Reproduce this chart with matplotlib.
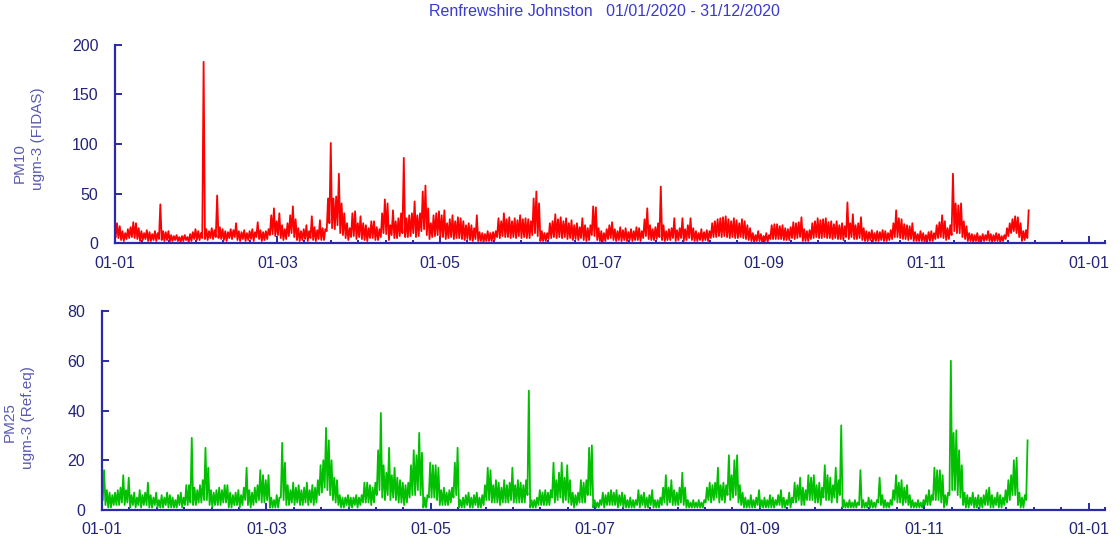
import numpy as np
import matplotlib
matplotlib.use("Agg")
import matplotlib.pyplot as plt

plt.rcParams['font.family'] = ['Liberation Sans', 'DejaVu Sans']

# 站点与时段
title = "Renfrewshire Johnston   01/01/2020 - 31/12/2020"
start = np.datetime64('2020-01-01T00')

# PM10 日内高/低值 (ugm-3), 1月1日 - 12月4日
pm10_hi = [
    20, 17, 12, 10, 14, 16, 21, 20, 15, 12, 10, 13, 11, 9, 12, 10, 39, 12, 11, 12, 8, 7, 8, 6, 7, 8, 6, 9, 11, 14, 12,
    10, 183, 14, 12, 15, 13, 48, 16, 14, 12, 11, 14, 13, 20, 12, 11, 13, 10, 12, 14, 11, 21, 13, 11, 12, 14, 28, 35, 22,
    30, 18, 14, 20, 28, 37, 24, 15, 12, 14, 18, 12, 27, 16, 13, 23, 15, 14, 45, 101, 45, 47, 70, 40, 30, 20, 15, 30, 32, 20, 27,
    20, 18, 15, 22, 22, 16, 14, 30, 44, 40, 18, 33, 22, 25, 30, 86, 25, 28, 30, 42, 28, 30, 52, 58, 35, 20, 28, 30, 32, 28,
    33, 20, 24, 28, 22, 26, 25, 22, 18, 20, 18, 15, 28, 11, 10, 9, 12, 10, 11, 12, 25, 22, 30, 24, 26, 22, 25, 23, 28, 24, 25,
    24, 22, 45, 52, 40, 12, 10, 10, 20, 22, 29, 24, 26, 22, 25, 20, 23, 18, 20, 16, 25, 18, 15, 18, 37, 36, 15, 12, 10, 14,
    18, 21, 14, 12, 16, 13, 15, 11, 14, 12, 16, 15, 12, 24, 35, 18, 14, 16, 20, 57, 18, 12, 14, 15, 25, 13, 15, 25, 14, 18, 25,
    15, 12, 10, 14, 11, 13, 12, 20, 22, 24, 25, 26, 27, 24, 22, 25, 23, 20, 24, 22, 18, 15, 10, 8, 12, 9, 7, 10, 8, 18, 19,
    19, 17, 18, 15, 14, 16, 21, 20, 21, 26, 14, 12, 13, 20, 22, 25, 23, 24, 25, 21, 22, 19, 22, 18, 20, 17, 41, 20, 29, 18,
    20, 26, 15, 12, 11, 13, 10, 12, 11, 13, 12, 10, 13, 20, 33, 25, 24, 19, 18, 17, 20, 11, 9, 12, 10, 8, 11, 12, 10, 18, 21,
    28, 22, 15, 18, 70, 40, 38, 40, 22, 17, 10, 9, 8, 10, 7, 9, 8, 12, 9, 8, 10, 9, 7, 8, 15, 20, 24, 27, 26, 20,
    12, 13, 33,
]
pm10_lo = [
    6, 5, 3, 2, 4, 5, 6, 5, 4, 2, 3, 4, 2, 2, 3, 2, 4, 3, 2, 3, 1, 2, 3, 2, 1, 2, 3, 1, 2, 4, 3,
    3, 5, 4, 3, 5, 4, 6, 5, 4, 3, 2, 5, 4, 6, 3, 2, 4, 2, 3, 4, 2, 6, 4, 2, 3, 4, 8, 9, 7,
    8, 5, 3, 4, 7, 10, 6, 3, 2, 3, 4, 2, 5, 3, 2, 4, 3, 3, 12, 20, 15, 14, 18, 10, 8, 5, 3, 6, 7, 4, 6,
    4, 3, 2, 5, 5, 3, 3, 6, 10, 9, 3, 8, 5, 5, 7, 10, 6, 6, 7, 10, 6, 7, 12, 14, 8, 4, 6, 7, 8, 6,
    6, 4, 5, 6, 4, 5, 5, 4, 3, 4, 3, 2, 4, 2, 2, 1, 2, 2, 2, 3, 6, 5, 7, 6, 6, 5, 6, 5, 7, 5, 6,
    5, 5, 8, 10, 7, 2, 2, 2, 4, 5, 6, 5, 6, 5, 6, 4, 5, 3, 4, 3, 5, 3, 2, 3, 8, 7, 3, 2, 1, 2,
    4, 5, 3, 2, 3, 2, 3, 2, 3, 2, 3, 3, 2, 5, 7, 4, 3, 3, 4, 6, 3, 2, 3, 3, 5, 2, 3, 5, 2, 3, 5,
    3, 2, 2, 3, 2, 3, 2, 5, 6, 6, 7, 6, 7, 6, 5, 6, 5, 5, 6, 5, 4, 3, 2, 1, 2, 2, 1, 2, 1, 4, 4,
    4, 4, 4, 3, 3, 3, 5, 4, 5, 6, 2, 2, 2, 4, 5, 6, 5, 5, 6, 5, 5, 4, 5, 4, 4, 3, 6, 4, 6, 4,
    4, 5, 3, 2, 2, 3, 2, 2, 2, 3, 2, 2, 3, 4, 6, 6, 5, 4, 4, 3, 4, 2, 2, 2, 2, 1, 2, 2, 2, 4, 5,
    6, 5, 3, 4, 8, 12, 10, 10, 6, 4, 2, 2, 1, 2, 1, 2, 2, 3, 2, 1, 2, 2, 1, 2, 4, 7, 10, 12, 10, 6,
    2, 3, 5,
]

# PM2.5 日内高/低值 (ugm-3)
pm25_hi = [
    16, 8, 7, 6, 7, 8, 9, 14, 8, 13, 6, 7, 5, 8, 6, 7, 11, 6, 5, 7, 4, 6, 5, 7, 6, 5, 4, 6, 7, 5, 10,
    10, 29, 9, 8, 10, 12, 25, 17, 8, 7, 8, 9, 8, 10, 10, 7, 6, 7, 8, 6, 9, 17, 8, 7, 9, 10, 16, 14, 12,
    14, 5, 4, 6, 5, 27, 19, 10, 8, 11, 9, 10, 8, 9, 11, 8, 10, 9, 12, 18, 20, 33, 28, 20, 13, 12, 6, 5, 5, 6, 5,
    5, 6, 5, 6, 11, 11, 10, 9, 11, 24, 39, 18, 15, 25, 14, 17, 13, 12, 11, 10, 11, 18, 24, 22, 31, 23, 5, 6, 19, 18,
    18, 17, 8, 9, 7, 8, 9, 19, 25, 4, 5, 6, 7, 5, 6, 7, 5, 6, 10, 17, 16, 10, 12, 11, 9, 12, 10, 11, 17, 10, 12,
    11, 10, 12, 48, 4, 4, 5, 8, 7, 8, 7, 8, 19, 12, 15, 19, 13, 18, 12, 7, 6, 7, 12, 11, 12, 25, 26, 4, 3, 4,
    7, 6, 7, 8, 7, 8, 6, 7, 6, 4, 5, 4, 4, 8, 6, 7, 5, 6, 8, 4, 4, 5, 9, 14, 9, 12, 8, 7, 9, 15, 9,
    4, 3, 4, 3, 4, 3, 4, 9, 11, 10, 11, 17, 10, 11, 10, 22, 14, 20, 22, 10, 7, 5, 4, 6, 4, 5, 8, 4, 5, 4, 6,
    5, 4, 6, 8, 5, 4, 7, 5, 11, 10, 13, 9, 8, 14, 13, 14, 10, 11, 9, 18, 14, 13, 10, 17, 12, 34, 4, 3, 4, 3,
    4, 3, 16, 4, 3, 5, 4, 3, 4, 13, 6, 4, 3, 4, 8, 14, 11, 12, 9, 10, 6, 4, 3, 4, 3, 4, 6, 8, 6, 17, 16,
    16, 14, 6, 7, 60, 31, 32, 24, 18, 7, 6, 5, 7, 5, 6, 5, 6, 8, 9, 6, 5, 7, 6, 5, 8, 12, 14, 20, 21, 7,
    5, 6, 28,
]
pm25_lo = [
    4, 2, 1, 1, 2, 2, 2, 3, 2, 3, 1, 2, 1, 2, 1, 2, 2, 1, 1, 2, 1, 1, 1, 2, 1, 1, 1, 1, 2, 1, 2,
    2, 3, 2, 2, 3, 3, 4, 4, 2, 1, 2, 2, 2, 3, 3, 1, 1, 2, 2, 1, 2, 4, 2, 1, 2, 3, 4, 3, 3,
    4, 1, 1, 1, 1, 5, 4, 2, 2, 3, 2, 3, 2, 2, 3, 2, 3, 2, 3, 6, 7, 9, 8, 6, 4, 3, 2, 1, 1, 2, 1,
    1, 2, 1, 2, 3, 3, 3, 2, 3, 6, 8, 5, 4, 6, 4, 5, 4, 3, 3, 2, 3, 5, 6, 6, 8, 6, 1, 1, 5, 5,
    5, 4, 2, 2, 2, 2, 3, 5, 6, 1, 1, 1, 2, 1, 1, 2, 1, 1, 2, 4, 4, 3, 3, 3, 2, 3, 3, 3, 4, 3, 3,
    3, 3, 3, 6, 1, 1, 1, 2, 2, 2, 2, 2, 5, 3, 4, 5, 3, 4, 3, 2, 1, 2, 3, 3, 3, 6, 6, 1, 1, 1,
    2, 1, 2, 2, 2, 2, 1, 2, 1, 1, 1, 1, 1, 2, 1, 2, 1, 1, 2, 1, 1, 1, 2, 3, 2, 3, 2, 2, 2, 3, 2,
    1, 1, 1, 1, 1, 1, 1, 3, 4, 3, 4, 5, 3, 4, 3, 6, 4, 5, 6, 3, 2, 1, 1, 1, 1, 1, 2, 1, 1, 1, 1,
    1, 1, 2, 2, 1, 1, 2, 1, 3, 3, 4, 2, 2, 4, 4, 4, 3, 3, 2, 5, 4, 4, 3, 5, 3, 6, 1, 1, 1, 1,
    1, 1, 2, 1, 1, 1, 1, 1, 1, 3, 2, 1, 1, 1, 2, 4, 3, 3, 2, 3, 2, 1, 1, 1, 1, 1, 2, 2, 2, 4, 4,
    4, 3, 1, 2, 6, 8, 8, 6, 5, 2, 1, 1, 2, 1, 1, 1, 1, 2, 2, 1, 1, 2, 1, 1, 2, 3, 4, 6, 6, 2,
    1, 1, 4,
]

tick_days = [0, 60, 120, 180, 240, 300, 360]
tick_labels = ["01-01", "01-03", "01-05", "01-07", "01-09", "01-11", "01-01"]

axis_col = '#2a2aa6'
text_col = '#23237a'
label_col = '#5a5ab4'


def series(lo, hi):
    # 每天两个点: 06时取低值, 18时取高值
    n = len(lo)
    t = start + np.timedelta64(6, 'h') + np.timedelta64(12, 'h') * np.arange(2 * n)
    v = np.column_stack([lo, hi]).ravel()
    return t, v


def style_axis(ax, ymax, ystep):
    end = start + np.timedelta64(366 * 24, 'h')
    ax.set_xlim(start, end)
    ax.set_ylim(0, ymax)
    ax.set_yticks(np.arange(0, ymax + 1, ystep))
    ax.set_xticks([start + np.timedelta64(d * 24, 'h') for d in tick_days])
    ax.set_xticklabels(tick_labels)
    minor = [start + np.timedelta64(d * 24, 'h') for d in list(range(10, 366, 10)) + [366]]
    ax.set_xticks(minor, minor=True)
    for s in ['top', 'right']:
        ax.spines[s].set_visible(False)
    for s in ['left', 'bottom']:
        ax.spines[s].set_color(axis_col)
        ax.spines[s].set_linewidth(1.6)
    ax.tick_params(axis='both', which='major', direction='in', length=5, width=1.4,
                   color=axis_col, labelcolor=text_col, labelsize=11.5)
    ax.tick_params(axis='x', which='minor', direction='in', length=2, width=1.4, color=axis_col)
    ax.tick_params(axis='x', which='major', pad=9)
    ax.tick_params(axis='y', which='major', pad=12)


fig = plt.figure(figsize=(11.2, 5.44), dpi=100)
ax1 = fig.add_axes([0.1027, 0.5533, 0.884, 0.364])
ax2 = fig.add_axes([0.0911, 0.0625, 0.8955, 0.3658])

t, v = series(pm10_lo, pm10_hi)
ax1.plot(t, v, color='#ff0000', lw=1.3)
style_axis(ax1, 200, 50)

t, v = series(pm25_lo, pm25_hi)
ax2.plot(t, v, color='#00c000', lw=1.3)
style_axis(ax2, 80, 20)

fig.text(0.540, 0.978, title, ha='center', va='center', fontsize=11.5, color='#3a3ad0')

fig.text(0.018, 0.70, "PM10", rotation=90, ha='center', va='center', fontsize=11, color=label_col)
fig.text(0.034, 0.745, "ugm-3 (FIDAS)", rotation=90, ha='center', va='center', fontsize=11, color=label_col)
fig.text(0.009, 0.225, "PM25", rotation=90, ha='center', va='center', fontsize=11, color=label_col)
fig.text(0.025, 0.232, "ugm-3 (Ref.eq)", rotation=90, ha='center', va='center', fontsize=11, color=label_col)

fig.savefig('out.png', dpi=100)
